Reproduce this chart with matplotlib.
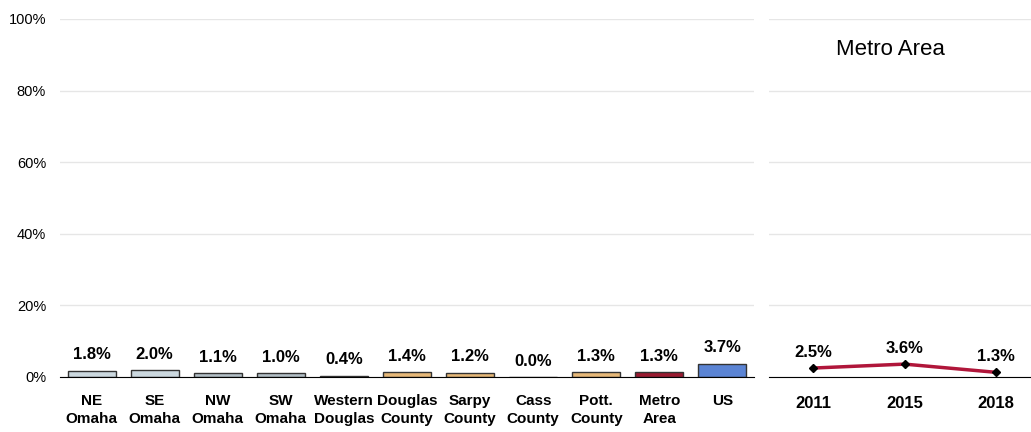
import numpy as np
import matplotlib.pyplot as plt

# data
regions = ['NE\nOmaha', 'SE\nOmaha', 'NW\nOmaha', 'SW\nOmaha', 'Western\nDouglas',
           'Douglas\nCounty', 'Sarpy\nCounty', 'Cass\nCounty', 'Pott.\nCounty',
           'Metro\nArea', 'US']
region_vals = [1.8, 2.0, 1.1, 1.0, 0.4, 1.4, 1.2, 0.0, 1.3, 1.3, 3.7]
bar_colors = ['#cbd8df', '#cbd8df', '#b3bfc6', '#b3bfc6', '#3a3a3a',
              '#e6b878', '#e6b878', '#e6b878', '#e6b878', '#9a1a30', '#5b84d4']

years = ['2011', '2015', '2018']
metro_vals = [2.5, 3.6, 1.3]

plt.rcParams['font.family'] = ['Liberation Sans Narrow', 'Liberation Sans', 'DejaVu Sans']

fig = plt.figure(figsize=(10.31, 4.32), dpi=100)

# left panel: bars by region
ax = fig.add_axes([60 / 1031, 55 / 432, 694 / 1031, 358 / 432])
x = np.arange(len(regions))
ax.bar(x, region_vals, width=0.76, color=bar_colors, edgecolor='#333333', linewidth=1, zorder=3)
for xi, v in zip(x, region_vals):
    ax.annotate(f'{v:.1f}%', (xi, v), xytext=(0, 6), textcoords='offset points',
                ha='center', va='bottom', fontsize=12, fontweight='bold')
ax.set_xlim(-0.5, len(regions) - 0.5)
ax.set_ylim(0, 100)
ax.set_yticks(range(0, 101, 20))
ax.set_yticklabels([f'{t}%' for t in range(0, 101, 20)], fontsize=10.5)
ax.set_xticks(x)
ax.set_xticklabels(regions, fontsize=11, fontweight='bold', linespacing=1.35)
ax.tick_params(length=0)
ax.tick_params(axis='x', pad=12)
ax.tick_params(axis='y', pad=10)
ax.grid(axis='y', color='#e6e6e6', linewidth=1, zorder=0)
for s in ['top', 'right', 'left']:
    ax.spines[s].set_visible(False)
ax.spines['bottom'].set_color('black')
ax.spines['bottom'].set_zorder(4)

# right panel: metro area trend
ax2 = fig.add_axes([769 / 1031, 55 / 432, 273 / 1031, 358 / 432])
xp = np.arange(len(years))
ax2.plot(xp, metro_vals, color='#b0163a', linewidth=2.5, marker='D', markersize=4,
         markerfacecolor='black', markeredgecolor='black', zorder=3)
for xi, v in zip(xp, metro_vals):
    ax2.annotate(f'{v:.1f}%', (xi, v), xytext=(0, 6), textcoords='offset points',
                 ha='center', va='bottom', fontsize=12, fontweight='bold')
ax2.set_xlim(-0.48, 2.5)
ax2.set_ylim(0, 100)
ax2.set_yticks(range(0, 101, 20))
ax2.set_yticklabels([])
ax2.set_xticks(xp)
ax2.set_xticklabels(years, fontsize=12, fontweight='bold')
ax2.tick_params(length=0, pad=14)
ax2.grid(axis='y', color='#e6e6e6', linewidth=1, zorder=0)
for s in ['top', 'right', 'left']:
    ax2.spines[s].set_visible(False)
ax2.spines['bottom'].set_color('black')
ax2.text(0.445, 0.915, 'Metro Area', transform=ax2.transAxes, ha='center', va='center', fontsize=16)

fig.savefig('out.png', dpi=100)
